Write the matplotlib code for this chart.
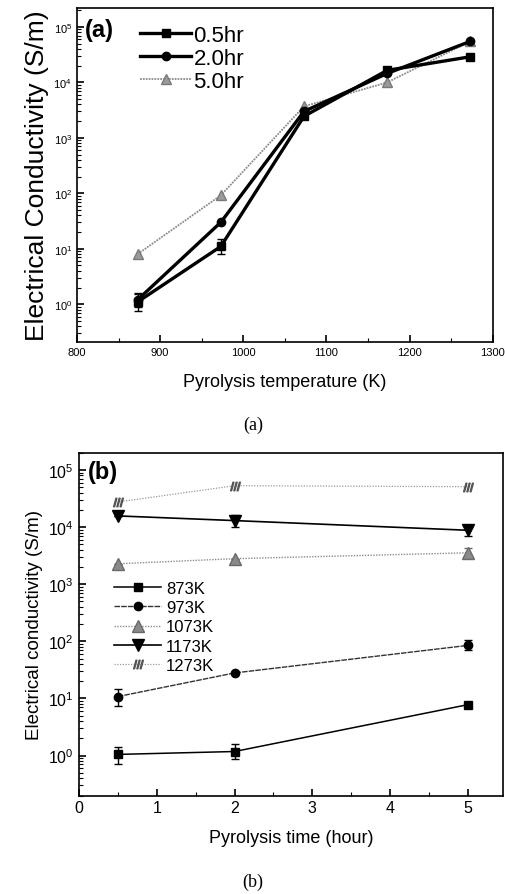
import numpy as np
import matplotlib
matplotlib.use('Agg')
import matplotlib.pyplot as plt
from matplotlib.ticker import LogLocator, MultipleLocator, NullFormatter

plt.rcParams['font.family'] = ['Liberation Sans', 'DejaVu Sans']
plt.rcParams['mathtext.fontset'] = 'custom'
plt.rcParams['mathtext.rm'] = 'Liberation Sans'

# (a) conductivity vs pyrolysis temperature
temps = [873, 973, 1073, 1173, 1273]
cond_05hr = [1.1, 11, 2450, 16500, 29000]
cond_20hr = [1.2, 30, 3000, 14500, 55000]
cond_50hr = [8, 92, 3700, 10000, 55000]
err_05hr_lo = [0.35, 3, 0, 0, 0]
err_05hr_hi = [0.4, 4, 0, 0, 0]
err_20hr_lo = [0.3, 0, 0, 0, 0]
err_20hr_hi = [0.4, 0, 0, 0, 0]

# (b) conductivity vs pyrolysis time
hours = [0.5, 2, 5]
cond_873 = [1.05, 1.18, 7.8]
cond_973 = [10.8, 28, 85]
cond_1073 = [2280, 2800, 3550]
cond_1173 = [15700, 13000, 8800]
cond_1273 = [27500, 53000, 51000]
err_873_lo = [0.33, 0.3, 0]
err_873_hi = [0.35, 0.4, 0]
err_973_lo = [3.3, 0, 15]
err_973_hi = [4, 0, 22]
err_1073_lo = [0, 0, 500]
err_1073_hi = [0, 0, 800]
err_1173_lo = [0, 3000, 1800]
err_1173_hi = [0, 3500, 2000]

gray = '#8c8c8c'

fig = plt.figure(figsize=(5.06, 8.95), dpi=100)
ax1 = fig.add_axes([0.152, 0.617, 0.822, 0.373])
ax2 = fig.add_axes([0.156, 0.110, 0.838, 0.383])

# ---- panel (a)
e05 = ax1.errorbar(temps, cond_05hr, yerr=[err_05hr_lo, err_05hr_hi], color='black',
                   lw=2.4, marker='s', ms=6, capsize=3, elinewidth=1, zorder=4)
e20 = ax1.errorbar(temps, cond_20hr, yerr=[err_20hr_lo, err_20hr_hi], color='black',
                   lw=2.4, marker='o', ms=6, capsize=3, elinewidth=1, zorder=3)
l50, = ax1.plot(temps, cond_50hr, color=gray, lw=1.3, ls=(0, (1, 0.6)), marker='^', ms=7,
                mfc='#9a9a9a', mec='#7a7a7a', zorder=2)
ax1.set_yscale('log')
ax1.set_xlim(800, 1300)
ax1.set_ylim(0.21, 2.2e5)
ax1.xaxis.set_major_locator(MultipleLocator(100))
ax1.xaxis.set_minor_locator(MultipleLocator(50))
ax1.yaxis.set_major_locator(LogLocator(base=10, numticks=10))
ax1.yaxis.set_minor_locator(LogLocator(base=10, subs=np.arange(2, 10), numticks=10))
ax1.yaxis.set_minor_formatter(NullFormatter())
ax1.tick_params(which='both', direction='in', top=False, right=False)
ax1.tick_params(which='major', length=5, width=1.2, labelsize=8)
ax1.tick_params(which='minor', length=3, width=0.8)
ax1.set_xlabel('Pyrolysis temperature (K)', fontsize=13, labelpad=12)
ax1.set_ylabel('Electrical Conductivity (S/m)', fontsize=19, labelpad=3)
ax1.text(0.02, 0.97, '(a)', transform=ax1.transAxes, fontsize=17, fontweight='bold',
         va='top', ha='left')
ax1.legend([e05[0], e20[0], l50], ['0.5hr', '2.0hr', '5.0hr'],
           loc='upper left', bbox_to_anchor=(0.12, 0.99), frameon=False, fontsize=16,
           handlelength=2.3, handletextpad=0.1, labelspacing=0.1, borderaxespad=0.2)
for s in ax1.spines.values():
    s.set_linewidth(1.2)

# ---- panel (b)
e873 = ax2.errorbar(hours, cond_873, yerr=[err_873_lo, err_873_hi], color='black', lw=1.1,
                    marker='s', ms=6, capsize=3, elinewidth=1)
e973 = ax2.errorbar(hours, cond_973, yerr=[err_973_lo, err_973_hi], color='#333333', lw=1.0,
                    ls=(0, (4, 0.8)), marker='o', ms=6, capsize=3, elinewidth=1, mfc='black',
                    mec='black', ecolor='black')
e1073 = ax2.errorbar(hours, cond_1073, yerr=[err_1073_lo, err_1073_hi], color=gray, lw=1.0,
                     ls=(0, (1, 1)), marker='^', ms=8, capsize=3, elinewidth=1, mfc='#8a8a8a',
                     mec='#6a6a6a', ecolor='#6a6a6a')
e1173 = ax2.errorbar(hours, cond_1173, yerr=[err_1173_lo, err_1173_hi], color='black', lw=1.2,
                     marker='v', ms=8, capsize=3, elinewidth=1)
l1273, = ax2.plot(hours, cond_1273, color='#9a9a9a', lw=0.9, ls=(0, (1, 1.2)),
                  marker='$///$', ms=7, mec='#555555')
ax2.set_yscale('log')
ax2.set_xlim(0, 5.45)
ax2.set_ylim(0.2, 2.0e5)
ax2.xaxis.set_major_locator(MultipleLocator(1))
ax2.xaxis.set_minor_locator(MultipleLocator(0.5))
ax2.yaxis.set_major_locator(LogLocator(base=10, numticks=10))
ax2.yaxis.set_minor_locator(LogLocator(base=10, subs=np.arange(2, 10), numticks=10))
ax2.yaxis.set_minor_formatter(NullFormatter())
ax2.tick_params(which='both', direction='in', top=False, right=False)
ax2.tick_params(which='major', length=5, width=1.2, labelsize=11.5)
ax2.tick_params(which='minor', length=3, width=0.8)
ax2.set_xlabel('Pyrolysis time (hour)', fontsize=13, labelpad=10)
ax2.set_ylabel('Electrical conductivity (S/m)', fontsize=13.5, labelpad=4)
ax2.text(0.02, 0.98, '(b)', transform=ax2.transAxes, fontsize=17, fontweight='bold',
         va='top', ha='left')
ax2.legend([e873[0], e973[0], e1073[0], e1173[0], l1273],
           ['873K', '973K', '1073K', '1173K', '1273K'],
           loc='upper left', bbox_to_anchor=(0.06, 0.655), frameon=False, fontsize=12,
           handlelength=2.8, handletextpad=0.3, labelspacing=0.25, borderaxespad=0.2)
for s in ax2.spines.values():
    s.set_linewidth(1.2)

# captions
fig.text(0.5, 1 - 425 / 895, '(a)', ha='center', va='center', fontsize=13,
         family='Liberation Serif')
fig.text(0.5, 1 - 882 / 895, '(b)', ha='center', va='center', fontsize=13,
         family='Liberation Serif')

fig.savefig('out.png', dpi=100)
